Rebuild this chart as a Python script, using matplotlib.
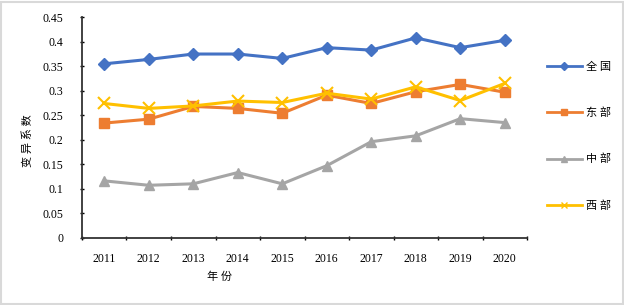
import matplotlib.pyplot as plt
import numpy as np

plt.rcParams['font.family'] = ['Liberation Serif', 'Noto Sans CJK SC', 'DejaVu Sans']

years = ['2011', '2012', '2013', '2014', '2015', '2016', '2017', '2018', '2019', '2020']
quanguo = [0.355, 0.364, 0.375, 0.375, 0.366, 0.388, 0.383, 0.408, 0.388, 0.403]
dongbu = [0.234, 0.242, 0.268, 0.264, 0.254, 0.291, 0.274, 0.298, 0.313, 0.297]
zhongbu = [0.116, 0.107, 0.110, 0.133, 0.110, 0.147, 0.196, 0.208, 0.243, 0.235]
xibu = [0.274, 0.264, 0.269, 0.279, 0.276, 0.295, 0.283, 0.308, 0.280, 0.315]

series = [
    ('全国', quanguo, '#4472C4', 'D', 6),
    ('东部', dongbu, '#ED7D31', 's', 7),
    ('中部', zhongbu, '#A5A5A5', '^', 7.5),
    ('西部', xibu, '#FFC000', 'x', 8),
]

fig = plt.figure(figsize=(6.24, 3.05), dpi=100)
ax = fig.add_axes([0.1314, 0.2207, 0.7132, 0.7226])

x = np.arange(len(years))
handles = []
for name, vals, color, mk, ms in series:
    h, = ax.plot(x, vals, color=color, lw=2.2, marker=mk, markersize=ms,
                 markeredgewidth=1.5 if mk == 'x' else 1, label=name)
    handles.append(h)

ax.set_xlim(-0.5, len(years) - 0.5)
ax.set_ylim(0, 0.45)
ax.set_xticks(x)
ax.set_xticklabels(years, fontsize=8.5)
ax.set_xticks(np.arange(-0.5, len(years), 1), minor=True)
ax.tick_params(axis='x', which='major', length=0, pad=11)
ax.tick_params(axis='x', which='minor', length=3, direction='inout', width=1)
yt = np.arange(0, 0.451, 0.05)
ax.set_yticks(yt)
ax.set_yticklabels(['0', '0.05', '0.1', '0.15', '0.2', '0.25', '0.3', '0.35', '0.4', '0.45'], fontsize=8.5)
ax.tick_params(axis='y', length=3, direction='inout', width=1, pad=12)

for s in ['top', 'right']:
    ax.spines[s].set_visible(False)
for s in ['left', 'bottom']:
    ax.spines[s].set_linewidth(1.3)
    ax.spines[s].set_color('#333333')

ax.set_xlabel('年 份', fontsize=8, labelpad=5, x=0.31)
ax.set_ylabel('变 异 系 数', fontsize=8)
ax.yaxis.set_label_coords(-0.11, 0.44)

fig.legend(handles=[plt.Line2D([], [], color=h.get_color(), lw=2, marker=h.get_marker(),
                               markersize=4) for h in handles],
           labels=['全 国', '东 部', '中 部', '西 部'],
           loc='upper left', bbox_to_anchor=(0.86, 0.83), frameon=False,
           fontsize=8, labelspacing=3.2, handlelength=3.2, handletextpad=0.3)

fig.patches.append(plt.Rectangle((0.002, 0.004), 0.996, 0.99, transform=fig.transFigure,
                                 fill=False, edgecolor='#d9d9d9', lw=1.5))

fig.savefig('out.png', dpi=100)
